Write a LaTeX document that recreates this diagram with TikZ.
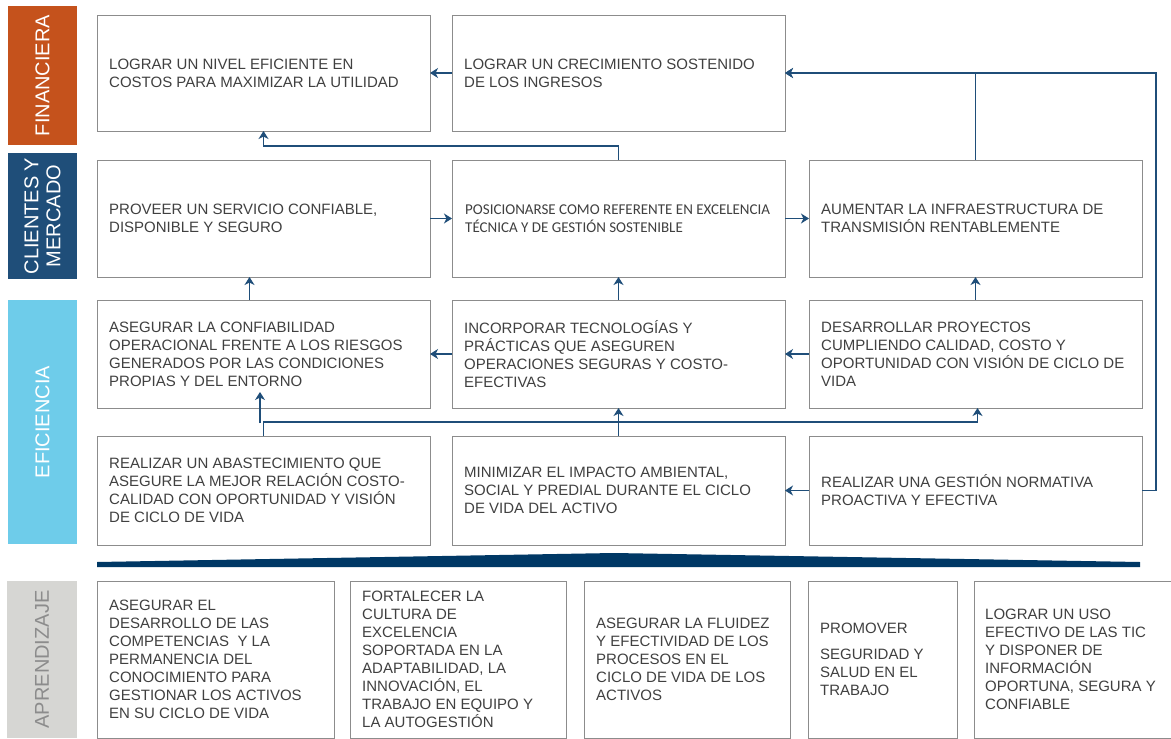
\documentclass[tikz,border=0pt]{standalone}
\usepackage{fontspec}
\setmainfont{Liberation Sans}
\newfontfamily\calfont{Carlito}
\usetikzlibrary{arrows.meta}
\definecolor{txtc}{RGB}{64,64,64}
\definecolor{boxc}{RGB}{140,140,140}
\definecolor{conc}{RGB}{31,78,121}
\definecolor{finc}{RGB}{197,82,28}
\definecolor{clic}{RGB}{31,78,121}
\definecolor{efic}{RGB}{110,204,234}
\definecolor{aprc}{RGB}{214,214,211}
\definecolor{aprt}{RGB}{140,140,140}
\definecolor{wedc}{RGB}{0,56,101}
\begin{document}
\begin{tikzpicture}[x=1pt,y=-1pt,
 box/.style={draw=boxc, line width=1pt, inner sep=0pt, outer sep=0pt},
 txt/.style={anchor=west, align=left, inner sep=0pt, text=txtc, font=\fontsize{15}{18}\selectfont},
 bar/.style={inner sep=0pt, outer sep=0pt, minimum width=69pt},
 bartxt/.style={rotate=90, align=center, font=\fontsize{20}{22}\selectfont, inner sep=0pt},
 conn/.style={draw=conc, line width=1.1pt, -{Stealth[length=8pt,width=10pt,inset=2.5pt]}},
 plainconn/.style={draw=conc, line width=1.1pt}
]
\useasboundingbox (0,0) rectangle (1171,739);
\fill[white] (0,0) rectangle (1171,739);

% side bars
\node[bar, fill=finc, minimum height=139pt] (fin) at (42.5,75.5) {};
\node[bar, fill=clic, minimum height=126pt] (cli) at (42.5,216) {};
\node[bar, fill=efic, minimum height=244pt] (efi) at (42.5,422) {};
\node[bar, fill=aprc, minimum width=70pt, minimum height=157pt] (apr) at (42,659.5) {};
\node[bartxt, text=white] (fint) at (fin.center) {FINANCIERA};
\node[bartxt, text=white] (clit) at (cli.center) {CLIENTES Y\\MERCADO};
\node[bartxt, text=white] (efit) at (efi.center) {EFICIENCIA};
\node[bartxt, text=aprt] (aprt) at (apr.center) {APRENDIZAJE};

% row 1
\node[box, minimum width=333pt, minimum height=116pt] (a1) at (263.5,73) {};
\node[box, minimum width=333pt, minimum height=116pt] (a2) at (618.5,73) {};
% row 2
\node[box, minimum width=333pt, minimum height=117pt] (b1) at (263.5,218.5) {};
\node[box, minimum width=333pt, minimum height=117pt] (b2) at (618.5,218.5) {};
\node[box, minimum width=333pt, minimum height=117pt] (b3) at (975.5,218.5) {};
% row 3
\node[box, minimum width=333pt, minimum height=108pt] (c1) at (263.5,354) {};
\node[box, minimum width=333pt, minimum height=108pt] (c2) at (618.5,354) {};
\node[box, minimum width=333pt, minimum height=108pt] (c3) at (975.5,354) {};
% row 4
\node[box, minimum width=333pt, minimum height=109pt] (d1) at (263.5,490.5) {};
\node[box, minimum width=333pt, minimum height=109pt] (d2) at (618.5,490.5) {};
\node[box, minimum width=333pt, minimum height=109pt] (d3) at (975.5,490.5) {};
% bottom row
\node[box, minimum width=237pt, minimum height=157pt] (e1) at (215.5,659.5) {};
\node[box, minimum width=216pt, minimum height=157pt] (e2) at (458,659.5) {};
\node[box, minimum width=206pt, minimum height=157pt] (e3) at (687,659.5) {};
\node[box, minimum width=149pt, minimum height=157pt] (e4) at (882.5,659.5) {};
\node[box, minimum width=200pt, minimum height=157pt] (e5) at (1074,659.5) {};

% texts
\node[txt] (a1t) at ([xshift=12pt]a1.west) {LOGRAR UN NIVEL EFICIENTE EN\\COSTOS PARA MAXIMIZAR LA UTILIDAD};
\node[txt] (a2t) at ([xshift=12pt]a2.west) {LOGRAR UN CRECIMIENTO SOSTENIDO\\DE LOS INGRESOS};
\node[txt] (b1t) at ([xshift=12pt]b1.west) {PROVEER UN SERVICIO CONFIABLE,\\DISPONIBLE Y SEGURO};
\node[txt, font=\calfont\fontsize{15}{18}\selectfont] (b2t) at ([xshift=13pt]b2.west) {POSICIONARSE COMO REFERENTE EN EXCELENCIA\\TÉCNICA Y DE GESTIÓN SOSTENIBLE};
\node[txt] (b3t) at ([xshift=12pt]b3.west) {AUMENTAR LA INFRAESTRUCTURA DE\\TRANSMISIÓN RENTABLEMENTE};
\node[txt] (c1t) at ([xshift=12pt]c1.west) {ASEGURAR LA CONFIABILIDAD\\OPERACIONAL FRENTE A LOS RIESGOS\\GENERADOS POR LAS CONDICIONES\\PROPIAS Y DEL ENTORNO};
\node[txt] (c2t) at ([xshift=12pt]c2.west) {INCORPORAR TECNOLOGÍAS Y\\PRÁCTICAS QUE ASEGUREN\\OPERACIONES SEGURAS Y COSTO-\\EFECTIVAS};
\node[txt] (c3t) at ([xshift=12pt]c3.west) {DESARROLLAR PROYECTOS\\CUMPLIENDO CALIDAD, COSTO Y\\OPORTUNIDAD CON VISIÓN DE CICLO DE\\VIDA};
\node[txt] (d1t) at ([xshift=12pt]d1.west) {REALIZAR UN ABASTECIMIENTO QUE\\ASEGURE LA MEJOR RELACIÓN COSTO-\\CALIDAD CON OPORTUNIDAD Y VISIÓN\\DE CICLO DE VIDA};
\node[txt] (d2t) at ([xshift=12pt]d2.west) {MINIMIZAR EL IMPACTO AMBIENTAL,\\SOCIAL Y PREDIAL DURANTE EL CICLO\\DE VIDA DEL ACTIVO};
\node[txt] (d3t) at ([xshift=12pt]d3.west) {REALIZAR UNA GESTIÓN NORMATIVA\\PROACTIVA Y EFECTIVA};
\node[txt] (e1t) at ([xshift=12pt]e1.west) {ASEGURAR EL\\DESARROLLO DE LAS\\COMPETENCIAS\ \ Y LA\\PERMANENCIA DEL\\CONOCIMIENTO PARA\\GESTIONAR LOS ACTIVOS\\EN SU CICLO DE VIDA};
\node[txt] (e2t) at ([xshift=12pt]e2.west) {FORTALECER LA\\CULTURA DE\\EXCELENCIA\\SOPORTADA EN LA\\ADAPTABILIDAD, LA\\INNOVACIÓN, EL\\TRABAJO EN EQUIPO Y\\LA AUTOGESTIÓN};
\node[txt] (e3t) at ([xshift=12pt]e3.west) {ASEGURAR LA FLUIDEZ\\Y EFECTIVIDAD DE LOS\\PROCESOS EN EL\\CICLO DE VIDA DE LOS\\ACTIVOS};
\node[txt] (e4t) at ([xshift=12pt]e4.west) {PROMOVER\\[8pt]SEGURIDAD Y\\SALUD EN EL\\TRABAJO};
\node[txt] (e5t) at ([xshift=11pt]e5.west) {LOGRAR UN USO\\EFECTIVO DE LAS TIC\\Y DISPONER DE\\INFORMACIÓN\\OPORTUNA, SEGURA Y\\CONFIABLE};

% wedge
\fill[wedc] (97,562) -- (614,553) -- (1140,562) -- (1140,567) -- (97,567) -- cycle;

% connectors
\draw[conn] (a2.west) -- (a1.east);
\draw[conn] (b2.north) |- ([yshift=-15pt]a1.south) -- (a1.south);
\draw[conn] (b3.north) |- (a2.east);
\draw[conn] (d3.east) -- ++(14,0) |- (a2.east);
\draw[conn] (b1.east) -- (b2.west);
\draw[conn] (b2.east) -- (b3.west);
\draw[conn] ([xshift=-14pt]c1.north) -- ([xshift=-14pt]b1.south);
\draw[conn] (c2.north) -- (b2.south);
\draw[conn] (c3.north) -- (b3.south);
\draw[conn] (c2.west) -- (c1.east);
\draw[conn] (c3.west) -- (c2.east);
\draw[conn] (d3.west) -- (d2.east);
\draw[conn] (d2.north) -- (c2.south);
\draw[conn] (d1.north) -- ([yshift=14pt]d1.north) -| ([xshift=2pt]c3.south);
\draw[conn] ([xshift=-3.5pt,yshift=13pt]d1.north) -- ([xshift=-3.5pt,yshift=16pt]c1.south);
\end{tikzpicture}
\end{document}
